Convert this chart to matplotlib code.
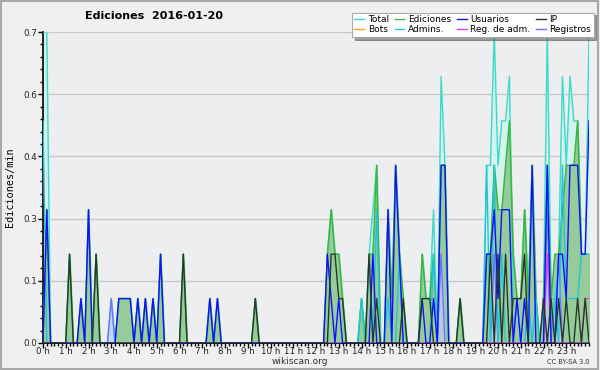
import matplotlib
matplotlib.use('Agg')
import matplotlib.pyplot as plt
from matplotlib.patches import Rectangle
import numpy as np

# edits per 10-minute slot (slot 0 = 00:00 ... slot 144 = 24:00)
n_slots = 145
total = {0: 7, 1: 7, 7: 2, 10: 1, 12: 3, 14: 2, 18: 1, 20: 1, 21: 1, 22: 1, 23: 1,
         25: 1, 27: 1, 29: 1, 31: 2, 37: 2, 44: 1, 46: 1, 56: 1,
         75: 2, 76: 3, 77: 2, 78: 2, 79: 1, 84: 1, 86: 2, 87: 3, 88: 4, 91: 3,
         92: 1, 93: 4, 94: 2, 95: 1, 100: 2, 101: 1, 102: 1, 103: 3, 105: 6,
         106: 4, 110: 1, 117: 4, 118: 4, 119: 7, 120: 4, 121: 5, 122: 5, 123: 6,
         124: 1, 125: 1, 126: 1, 127: 3, 128: 1, 129: 4, 130: 1, 132: 1, 133: 7,
         134: 1, 135: 1, 136: 2, 137: 6, 138: 4, 139: 6, 140: 5, 141: 5, 142: 2,
         143: 2, 144: 7}
ediciones = {1: 3, 7: 2, 10: 1, 12: 3, 14: 2, 20: 1, 21: 1, 22: 1, 23: 1, 25: 1,
             27: 1, 29: 1, 31: 2, 37: 2, 44: 1, 46: 1, 56: 1,
             75: 2, 76: 3, 77: 2, 78: 2, 79: 1, 84: 1, 86: 2, 87: 2, 88: 4, 91: 3,
             92: 1, 93: 4, 94: 2, 95: 1, 100: 2, 101: 1, 102: 1, 103: 2, 105: 4,
             106: 4, 110: 1, 117: 2, 118: 2, 119: 4, 120: 3, 121: 3, 122: 4,
             123: 5, 124: 2, 125: 1, 126: 1, 127: 3, 128: 1, 129: 4, 130: 1,
             132: 1, 133: 4, 134: 1, 135: 2, 136: 2, 137: 3, 138: 4, 139: 4,
             140: 4, 141: 5, 142: 2, 143: 2, 144: 2}
usuarios = {1: 3, 10: 1, 12: 3, 20: 1, 21: 1, 22: 1, 23: 1, 25: 1, 27: 1, 29: 1,
            31: 2, 44: 1, 46: 1, 75: 2, 76: 1, 78: 1, 87: 2, 91: 3, 93: 4, 94: 2,
            100: 1, 103: 1, 105: 4, 106: 4, 117: 2, 118: 2, 119: 3, 120: 1,
            121: 3, 122: 3, 123: 3, 125: 1, 127: 1, 129: 4, 133: 4, 136: 2,
            137: 2, 138: 1, 139: 4, 140: 4, 141: 4, 142: 2, 143: 2, 144: 5}
ip = {7: 2, 14: 2, 37: 2, 56: 1, 76: 2, 77: 2, 78: 1, 79: 1, 86: 2, 88: 1, 95: 1,
      100: 1, 101: 1, 102: 1, 110: 1, 118: 2, 120: 2, 122: 2, 124: 1, 125: 1,
      126: 1, 127: 2, 132: 1, 134: 1, 136: 1, 138: 1, 141: 1, 143: 1}
bots = {}
admins = {0: 5, 84: 1, 88: 3, 91: 1, 94: 2, 103: 2, 117: 4, 119: 4, 121: 2,
          125: 1, 128: 1, 130: 1, 133: 4, 135: 1, 137: 4, 138: 1, 139: 1,
          140: 1, 141: 1, 142: 2, 143: 2, 144: 2}
reg_adm = {133: 2, 143: 1, 144: 1}
registros = {18: 1, 105: 2, 119: 2, 133: 3, 136: 2}

hour_labels = ['%d h' % h for h in range(24)]


def per_min(d):
    v = np.zeros(n_slots)
    for k, c in d.items():
        v[k] = c / 10.0
    return v


x = np.arange(n_slots) / 6.0

fig = plt.figure(figsize=(6, 3.7), dpi=100, facecolor='#f0f0f0')
fig.patches.append(Rectangle((0.002, 0.003), 0.995, 0.994, transform=fig.transFigure,
                             fill=False, edgecolor='#a8a8a8', lw=1.5))
ax = fig.add_axes([43 / 600, 27 / 370, 546 / 600, 311 / 370])
ax.set_facecolor('#eceef0')

yt = np.linspace(0, 0.7, 6)
for v in yt[1:]:
    ax.axhline(v, color='#c8c8c8', lw=1, zorder=0)

t = per_min(total)
e = per_min(ediciones)
ax.fill_between(x, t, color='#d4f2ee', zorder=1)
ax.fill_between(x, e, color='#8cc68c', alpha=0.85, zorder=2)
ax.fill_between(x, per_min(registros), color='#c0ccff', alpha=0.7, zorder=2)

series = [
    ('Total', total, '#40d8c8'),
    ('Bots', bots, '#ffa020'),
    ('Ediciones', ediciones, '#38b838'),
    ('Admins.', admins, '#22c4dc'),
    ('Usuarios', usuarios, '#1010ff'),
    ('Reg. de adm.', reg_adm, '#e040e0'),
    ('IP', ip, '#283828'),
    ('Registros', registros, '#7070ff'),
]
draw_order = ['Total', 'Ediciones', 'Bots', 'Registros', 'Admins.', 'Reg. de adm.', 'Usuarios', 'IP']
handles = {}
for name, d, col in series:
    z = 3 + draw_order.index(name)
    ln, = ax.plot(x, per_min(d), color=col, lw=1.0, zorder=z, label=name)
    handles[name] = ln

ax.set_xlim(0, 24)
ax.set_ylim(0, 0.7)
ax.set_yticks(yt)
ax.set_yticklabels(['%.1f' % v for v in yt])
ax.set_yticks(np.linspace(0, 0.7, 26), minor=True)
ax.set_xticks(range(24))
ax.set_xticklabels(hour_labels)
ax.set_xticks(np.arange(0, 24.01, 1 / 6), minor=True)
ax.tick_params(axis='both', which='major', direction='out', length=3.6, width=1,
               labelsize=6.3, colors='black', labelcolor='#222222')
ax.tick_params(axis='x', which='major', pad=-0.5)
ax.tick_params(axis='y', which='major', pad=0.5)
ax.tick_params(axis='both', which='minor', direction='out', length=2.5, width=1)
for s in ['top', 'right']:
    ax.spines[s].set_visible(False)
ax.spines['left'].set_linewidth(1.2)
ax.spines['bottom'].set_linewidth(1.2)

ax.set_ylabel('Ediciones/min', family='DejaVu Sans Mono', fontsize=7.3, labelpad=6)

fig.text(0.257, 0.957, 'Ediciones  2016-01-20', fontsize=8, fontweight='bold',
         ha='center', va='center')
fig.text(0.5, 0.024, 'wikiscan.org', fontsize=6.5, ha='center', va='center', color='#333333')
fig.text(0.948, 0.021, 'CC BY-SA 3.0', fontsize=4.8, ha='center', va='center', color='#333333')

leg = fig.legend([handles[n] for n, _, _ in series], [n for n, _, _ in series],
                 ncol=4, loc='upper right', bbox_to_anchor=(0.997, 0.978),
                 fontsize=6.5, handlelength=1.1, handletextpad=0.4,
                 columnspacing=0.6, labelspacing=0.1, borderpad=0.3,
                 fancybox=False, shadow=True, framealpha=1, edgecolor='#aaaaaa')
leg.get_frame().set_linewidth(0.8)

fig.savefig('out.png', dpi=100, facecolor=fig.get_facecolor())
